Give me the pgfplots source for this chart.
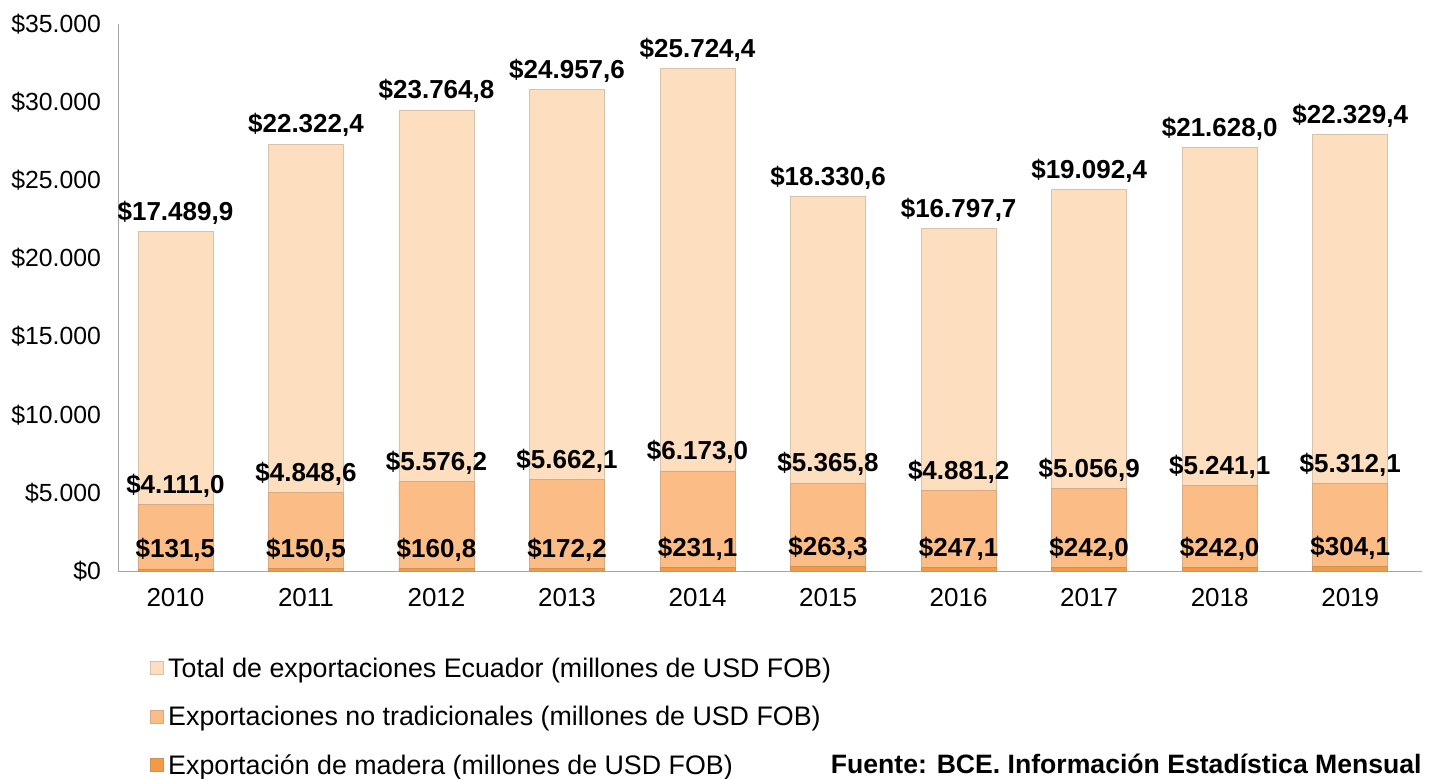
\documentclass[border=0pt]{standalone}
\usepackage{pgfplots}
\pgfplotsset{compat=1.18}
\usepackage{pgfplotstable}
\usepackage{fontspec}
\setmainfont{Liberation Sans}

\definecolor{totalc}{RGB}{253,222,190}
\definecolor{notradc}{RGB}{251,189,133}
\definecolor{maderac}{RGB}{242,154,70}

% year index; madera, no tradicionales, total (millones USD FOB) and their label texts
\pgfplotstableread{
x mad nt tot lmad lnt ltot
0 131.5 4111.0 17489.9 131,5 4.111,0 17.489,9
1 150.5 4848.6 22322.4 150,5 4.848,6 22.322,4
2 160.8 5576.2 23764.8 160,8 5.576,2 23.764,8
3 172.2 5662.1 24957.6 172,2 5.662,1 24.957,6
4 231.1 6173.0 25724.4 231,1 6.173,0 25.724,4
5 263.3 5365.8 18330.6 263,3 5.365,8 18.330,6
6 247.1 4881.2 16797.7 247,1 4.881,2 16.797,7
7 242.0 5056.9 19092.4 242,0 5.056,9 19.092,4
8 242.0 5241.1 21628.0 242,0 5.241,1 21.628,0
9 304.1 5312.1 22329.4 304,1 5.312,1 22.329,4
}\datos

\begin{document}
\begin{tikzpicture}
\useasboundingbox (-59bp,-104bp) rectangle (656bp,285.5bp);
\begin{axis}[
    scale only axis,
    width=652bp, height=273.5bp,
    ybar, bar shift=0pt,
    bar width=37.5bp,
    xmin=-0.44, xmax=9.55,
    ymin=0, ymax=35000,
    scaled y ticks=false,
    xtick={0,...,9},
    xticklabels={2010,2011,2012,2013,2014,2015,2016,2017,2018,2019},
    ytick={0,5000,...,35000},
    yticklabels={\$0,\$5.000,\$10.000,\$15.000,\$20.000,\$25.000,\$30.000,\$35.000},
    major tick length=0,
    axis x line*=bottom, axis y line*=left,
    axis line style={draw=black!35},
    tick label style={font=\fontsize{12.4bp}{14bp}\selectfont},
    xticklabel style={font=\fontsize{13bp}{15bp}\selectfont, yshift=-5bp},
    yticklabel style={xshift=-5bp},
    clip=false,
    point meta=explicit symbolic,
    nodes near coords={\$\pgfplotspointmeta},
    every node near coord/.append style={font=\bfseries\fontsize{13bp}{15bp}\selectfont, anchor=south, black},
    legend style={draw=none, fill=none, at={(0.02,-0.143)}, anchor=north west,
        font=\fontsize{13.4bp}{15bp}\selectfont, row sep=9bp, legend cell align=left},
    legend image code/.code={\fill[#1] (0bp,-3bp) rectangle (6.5bp,3.5bp);},
]
% bars drawn over each other from the full stack down to the madera segment
\addplot[fill=totalc, draw=totalc!70!gray]
    table[x=x, y expr=\thisrow{mad}+\thisrow{nt}+\thisrow{tot}, meta=ltot] {\datos};
\addlegendentry{Total de exportaciones Ecuador (millones de USD FOB)}
\addplot[fill=notradc, draw=notradc!70!gray]
    table[x=x, y expr=\thisrow{mad}+\thisrow{nt}, meta=lnt] {\datos};
\addlegendentry{Exportaciones no tradicionales (millones de USD FOB)}
\addplot[fill=maderac, draw=maderac!70!gray]
    table[x=x, y=mad, meta=lmad] {\datos};
\addlegendentry{Exportación de madera (millones de USD FOB)}
\node[anchor=east, font=\bfseries\fontsize{13.3bp}{15bp}\selectfont, inner sep=0pt]
    at (axis description cs:1,-0.352) {Fuente: BCE. Información Estadística Mensual};
\end{axis}
\end{tikzpicture}
\end{document}
